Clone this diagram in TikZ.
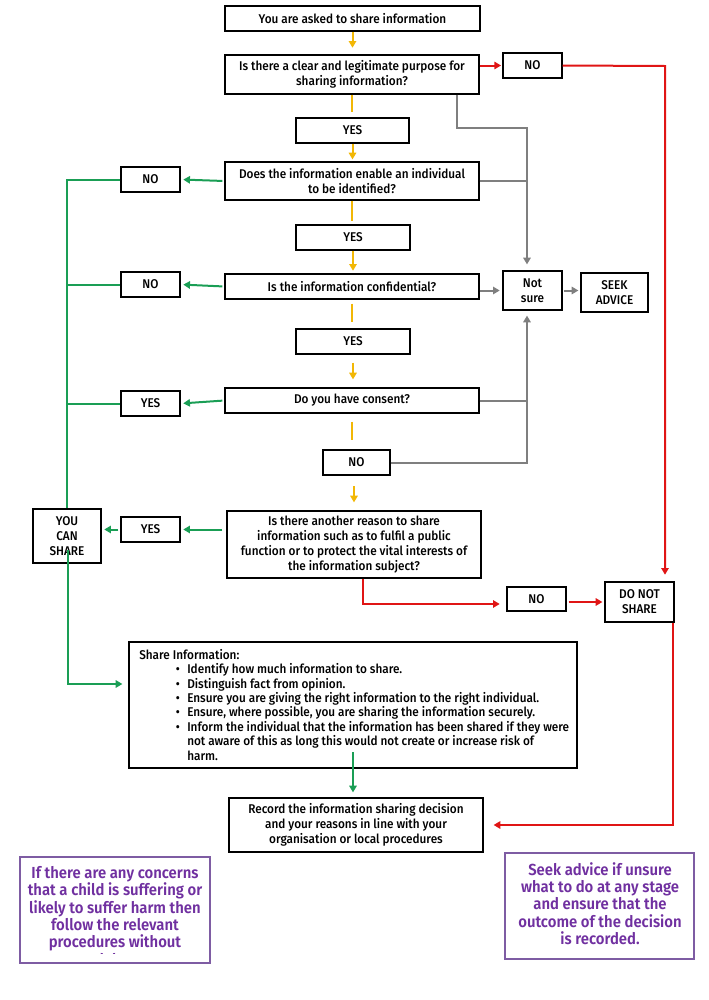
\documentclass[tikz,border=0pt]{standalone}
\usepackage{fontspec}
\setmainfont{Fira Sans}[FakeStretch=0.93,UprightFont={* Medium},BoldFont={* SemiBold}]
\usetikzlibrary{arrows.meta,calc}
\definecolor{ylw}{HTML}{F2B705}
\definecolor{grn}{HTML}{1A9E55}
\definecolor{rd}{HTML}{E01515}
\definecolor{gry}{HTML}{7F7F7F}
\definecolor{purp}{HTML}{7030A0}
\definecolor{purpb}{HTML}{7E5CA3}
\tikzset{
  boxst/.style={draw=black,line width=0.9pt,fill=white,inner sep=1pt,align=center,
    font=\fontsize{9.5}{11.25}\selectfont},
  ln/.style={line width=1.5pt},
  arr/.style={line width=1.5pt,-{Triangle[length=5pt,width=5.5pt]}},
  pbox/.style={draw=purpb,line width=0.9pt},
  ptext/.style={text=purp,align=center,inner sep=0pt,font=\bfseries\fontsize{12}{13}\selectfont}
}
\newcommand\mkbox[7][]{%
  \node[boxst,#1,minimum width={(#5-#3)*0.75pt},minimum height={(#6-#4)*0.75pt}] (#2)
    at ({(#3+#5)/2},{(#4+#6)/2}) {#7};}
\newcommand\bul[1]{\makebox[36pt][l]{\hspace*{27.5pt}\textbullet}#1}
\newcommand\cont[1]{\hspace*{36pt}#1}
\begin{document}
\begin{tikzpicture}[x=0.75pt,y=-0.75pt]
\useasboundingbox (0,0) rectangle (709,1000);
% boxes
\mkbox{start}{225}{6}{480}{31}{You are asked to share information}
\mkbox{q1}{225}{55}{479}{94}{Is there a clear and legitimate purpose for\\sharing information?}
\mkbox{no1}{503}{53}{562}{78}{NO}
\mkbox{yes1}{296}{118}{409}{143}{YES}
\mkbox{q2}{225}{162}{479}{200}{Does the information enable an individual\\to be identified?}
\mkbox{no2}{121}{167}{180}{192}{NO}
\mkbox{yes2}{296}{225}{410}{250}{YES}
\mkbox{q3}{225}{274}{479}{299}{Is the information confidential?}
\mkbox{no3}{121}{272}{180}{297}{NO}
\mkbox{ns}{503}{271}{562}{310}{Not\\sure}
\mkbox{seek}{581}{273}{648}{312}{SEEK\\ADVICE}
\mkbox{yes3}{296}{329}{410}{354}{YES}
\mkbox{q4}{225}{388}{479}{413}{Do you have consent?}
\mkbox{yes4}{121}{391}{180}{416}{YES}
\mkbox{no4}{323}{450}{390}{475}{NO}
\mkbox{q5}{227}{511}{481}{578}{Is there another reason to share\\information such as to fulfil a public\\function or to protect the vital interests of\\the information subject?}
\mkbox{yes5}{121}{517}{180}{542}{YES}
\mkbox{ycs}{33}{509}{101}{563}{YOU\\CAN\\SHARE}
\mkbox{no5}{507}{587}{566}{611}{NO}
\mkbox{dns}{605}{582}{674}{622}{DO NOT\\SHARE}
\mkbox{share}{129}{642}{577}{768}{}
\node[anchor=north west,align=left,inner sep=0pt,font=\fontsize{9.5}{10.8}\selectfont] (sharetxt) at (139,649)
 {Share Information:\\
  \bul{Identify how much information to share.}\\
  \bul{Distinguish fact from opinion.}\\
  \bul{Ensure you are giving the right information to the right individual.}\\
  \bul{Ensure, where possible, you are sharing the information securely.}\\
  \bul{Inform the individual that the information has been shared if they were}\\
  \cont{not aware of this as long this would not create or increase risk of}\\
  \cont{harm.}};
\mkbox{record}{229}{798}{483}{852}{Record the information sharing decision\\and your reasons in line with your\\organisation or local procedures}
% purple notes
\node[pbox,minimum width={190*0.75pt},minimum height={106*0.75pt},inner sep=0pt] (noteL) at (115,910) {};
\begin{scope}
\clip (20,857) rectangle (210,953);
\node[ptext,anchor=north] (noteLtxt) at (115,866) {If there are any concerns\\that a child is suffering or\\likely to suffer harm then\\follow the relevant\\procedures without\\delay.};
\end{scope}
\node[pbox,minimum width={189*0.75pt},minimum height={106*0.75pt},inner sep=0pt] (noteR) at (599.5,906) {};
\node[ptext,anchor=north] (noteRtxt) at (600,862) {Seek advice if unsure\\what to do at any stage\\and ensure that the\\outcome of the decision\\is recorded.};
% coordinates
\coordinate (redtop) at (665,66);
\coordinate (rq5) at (363,604);
\coordinate (rbot) at (673,825);
\coordinate (g1) at (457,128);
\coordinate (g2) at (527,128);
\coordinate (ycsin) at (68,550);
\coordinate (gturn) at (68,684);
\coordinate (sharein) at (353,752);
% yellow
\draw[arr,ylw,shorten >=5pt] (start.south) -- (start.south |- q1.north);
\draw[ln,ylw,shorten >=3.75pt] (q1.south) -- (q1.south |- yes1.north);
\draw[arr,ylw,shorten >=1.5pt] (yes1.south) -- (yes1.south |- q2.north);
\draw[ln,ylw,shorten >=2.25pt] (q2.south) -- (q2.south |- yes2.north);
\draw[arr,ylw,shorten >=2pt] (yes2.south) -- (yes2.south |- q3.north);
\draw[ln,ylw,shorten <=3pt,shorten >=4.5pt] (q3.south) -- (q3.south |- yes3.north);
\draw[arr,ylw,shorten <=6pt,shorten >=6pt] (yes3.south) -- (yes3.south |- q4.north);
\draw[ln,ylw,shorten <=6pt,shorten >=6.75pt] (q4.south) -- (q4.south |- no4.north);
\draw[arr,ylw,shorten <=8pt,shorten >=6pt] (no4.south -| q5.north) -- (q5.north);
% green
\draw[arr,grn,shorten <=1.5pt,shorten >=2pt] (q2.west) -- (no2.east);
\draw[ln,grn] (no2.west) -| (ycs.north);
\draw[arr,grn,shorten <=1.5pt,shorten >=2pt] (q3.west) -- (no3.east);
\draw[ln,grn] (no3.west) -- (no3.west -| ycs.north);
\draw[arr,grn,shorten <=1.5pt,shorten >=2pt] (q4.west) -- (yes4.east);
\draw[ln,grn] (yes4.west) -- (yes4.west -| ycs.north);
\draw[arr,grn,shorten <=3pt,shorten >=2pt] (q5.west |- yes5.east) -- (yes5.east);
\draw[arr,grn,shorten <=1.5pt,shorten >=2pt] (yes5.west) -- (yes5.west -| ycs.east);
\draw[arr,grn,shorten >=4.5pt] (ycsin) -- (gturn) -- (gturn -| share.west);
\draw[arr,grn,shorten >=3.75pt] (sharein) -- (sharein |- record.north);
% red
\draw[arr,rd,shorten >=1pt] (no1.west -| q1.east) -- (no1.west);
\draw[arr,rd,shorten >=5pt] (no1.east) -- (redtop) -- (redtop |- dns.north);
\draw[arr,rd,shorten >=5pt] (q5.south -| rq5) -- (rq5) -- (rq5 -| no5.west);
\draw[arr,rd,shorten <=1.5pt,shorten >=1.5pt] (no5.east |- dns.west) -- (dns.west);
\draw[arr,rd,shorten >=7.5pt] (dns.south -| rbot) -- (rbot) -- (record.east);
% gray
\draw[arr,gry,shorten >=4.5pt] (g1 |- q1.south) -- (g1) -- (g2) -- (g2 |- ns.north);
\draw[ln,gry] (q2.east) -- (q2.east -| g2);
\draw[arr,gry,shorten >=2pt] (q3.east |- ns.west) -- (ns.west);
\draw[arr,gry,shorten <=1pt,shorten >=1.5pt] (ns.east) -- (ns.east -| seek.west);
\draw[ln,gry] (q4.east) -- (q4.east -| g2);
\draw[arr,gry,shorten >=3.75pt] (no4.east) -- (no4.east -| g2) -- (g2 |- ns.south);
\end{tikzpicture}
\end{document}
